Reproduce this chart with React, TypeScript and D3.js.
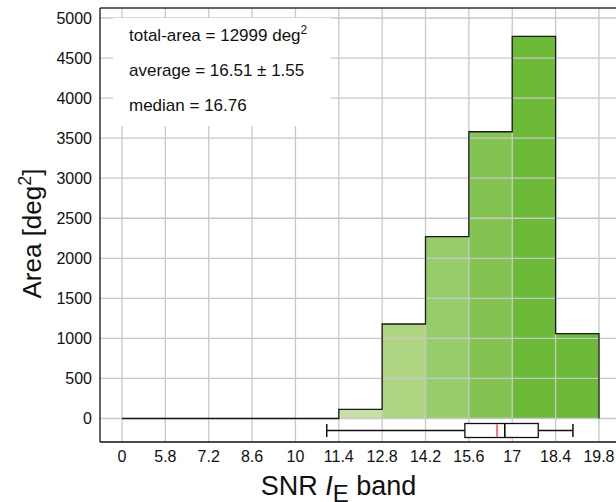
import React from 'react';
import * as d3 from 'd3';

// bin edges (tick labels) on the SNR axis
const edges = [0, 5.8, 7.2, 8.6, 10, 11.4, 12.8, 14.2, 15.6, 17, 18.4, 19.8];
const edgeLabels = ['0', '5.8', '7.2', '8.6', '10', '11.4', '12.8', '14.2', '15.6', '17', '18.4', '19.8'];
// area per bin, deg^2
const areas = [0, 0, 0, 0, 0, 115, 1180, 2270, 3580, 4770, 1060];
const binColors = ['#ffffff', '#ffffff', '#ffffff', '#ffffff', '#ffffff', '#c5e1a5', '#aed581', '#97cc6a', '#83c352', '#6dba38', '#6dba38'];
const yTicks = [0, 500, 1000, 1500, 2000, 2500, 3000, 3500, 4000, 4500, 5000];
// box plot summary
const whiskerLo = 11.01;
const q1 = 15.47;
const median = 16.76;
const q3 = 17.84;
const whiskerHi = 18.96;
const mean = 16.51;
const statLines = ['total-area = 12999 deg', 'average = 16.51 \u00b1 1.55', 'median = 16.76'];

const W = 616;
const H = 502;
const left = 100;
const top = 8;
const bottom = 442;
const font = '"Liberation Sans", Arial, Helvetica, sans-serif';

export default function App() {
  const step = 43.36;
  const x = d3.scaleLinear()
    .domain(edges)
    .range(edges.map((_, i) => 122 + i * step));
  const y = d3.scaleLinear().domain([0, 5000]).range([418.5, 18]);

  const bins = areas.map((a, i) => ({ x0: edges[i], x1: edges[i + 1], a, c: binColors[i] }));

  // step outline of the histogram
  const pts: [number, number][] = [];
  bins.forEach(b => {
    pts.push([x(b.x0), y(b.a)]);
    pts.push([x(b.x1), y(b.a)]);
  });
  pts.push([x(edges[edges.length - 1]), y(0)]);
  const outline = d3.line()(pts) as string;

  const by = 430.5;
  const bh = 14;

  return (
    <svg width={W} height={H} style={{ display: 'block', position: 'absolute', left: 0, top: 0 }} fontFamily={font}>
      <style>{'body{margin:0}'}</style>
      <rect width={W} height={H} fill="#fff" />
      {bins.filter(b => b.a > 0).map((b, i) => (
        <rect key={i} x={x(b.x0)} y={y(b.a)} width={x(b.x1) - x(b.x0)} height={y(0) - y(b.a)} fill={b.c} />
      ))}
      {/* grid */}
      {yTicks.map(t => (
        <line key={'h' + t} x1={left} x2={W} y1={y(t)} y2={y(t)} stroke="#c8c8c8" strokeWidth={1.3} />
      ))}
      {edges.map(e => (
        <line key={'v' + e} x1={x(e)} x2={x(e)} y1={top} y2={bottom} stroke="#c8c8c8" strokeWidth={1.3} />
      ))}
      <path d={outline} fill="none" stroke="#1a1a1a" strokeWidth={1.3} />
      {/* box plot */}
      <line x1={x(whiskerLo)} x2={x(q1)} y1={by} y2={by} stroke="#111" strokeWidth={1.3} />
      <line x1={x(q3)} x2={x(whiskerHi)} y1={by} y2={by} stroke="#111" strokeWidth={1.3} />
      <line x1={x(whiskerLo)} x2={x(whiskerLo)} y1={by - 6.5} y2={by + 6.5} stroke="#111" strokeWidth={1.5} />
      <line x1={x(whiskerHi)} x2={x(whiskerHi)} y1={by - 6.5} y2={by + 6.5} stroke="#111" strokeWidth={1.5} />
      <rect x={x(q1)} y={by - bh / 2} width={x(q3) - x(q1)} height={bh} fill="#fff" stroke="#111" strokeWidth={1.3} />
      <line x1={x(mean)} x2={x(mean)} y1={by - bh / 2 + 0.6} y2={by + bh / 2 - 0.6} stroke="#ff7070" strokeWidth={2} />
      <line x1={x(median)} x2={x(median)} y1={by - bh / 2} y2={by + bh / 2} stroke="#111" strokeWidth={1.6} />
      {/* frame */}
      <line x1={left} x2={W} y1={top} y2={top} stroke="#333" strokeWidth={1.3} />
      <line x1={left} x2={left} y1={top} y2={bottom} stroke="#111" strokeWidth={1.3} />
      <line x1={left} x2={W} y1={bottom} y2={bottom} stroke="#111" strokeWidth={1.3} />
      {/* stats box */}
      <rect x={113} y={18} width={218} height={108} fill="#fff" />
      {statLines.map((s, i) => (
        <text key={s} x={129} y={[40.5, 75.5, 110.5][i]} fontSize={17} fill="#111">
          {s}
          {i === 0 && <tspan dy={-7} fontSize={12}>2</tspan>}
        </text>
      ))}
      {/* y tick labels */}
      {yTicks.map(t => (
        <text key={'yl' + t} x={92} y={y(t)} dy="0.36em" textAnchor="end" fontSize={16} fill="#111">{t}</text>
      ))}
      {edgeLabels.map((l, i) => (
        <text key={'xl' + l} x={x(edges[i])} y={462} textAnchor="middle" fontSize={16} fill="#111">{l}</text>
      ))}
      {/* axis titles */}
      <text transform="translate(41,233.5) rotate(-90)" textAnchor="middle" fontSize={26} fill="#111">
        Area [deg<tspan dy={-10} fontSize={18}>2</tspan><tspan dy={10}>]</tspan>
      </text>
      <text x={338.5} y={495} textAnchor="middle" fontSize={27} fill="#111">
        SNR <tspan fontStyle="italic">I</tspan><tspan dy={7} fontSize={24}>E</tspan><tspan dy={-7}> band</tspan>
      </text>
    </svg>
  );
}
